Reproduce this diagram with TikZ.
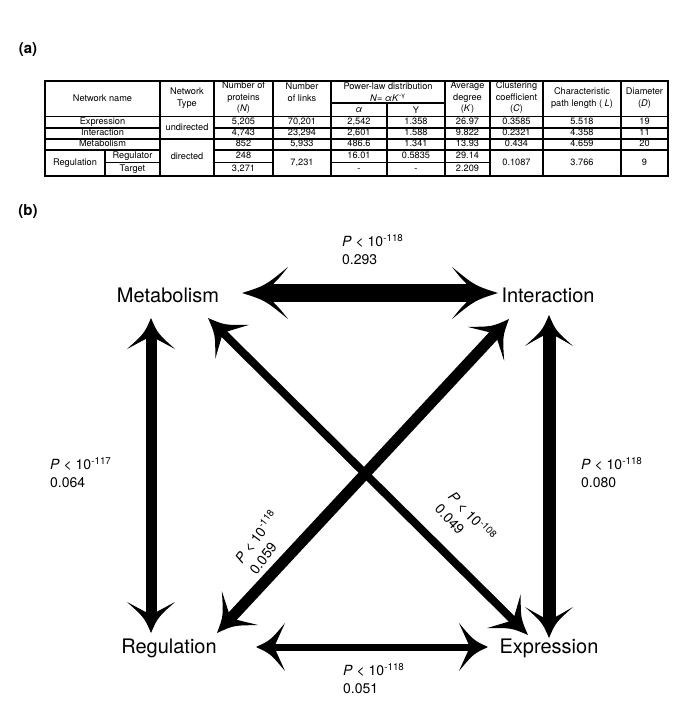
\documentclass[tikz,border=0pt]{standalone}
\usepackage{fontspec}
\setmainfont{TeX Gyre Heros}
\usetikzlibrary{calc}
\newcounter{tcn}
\newcommand{\tc}[3]{\stepcounter{tcn}\node[tcell] (tc\arabic{tcn}) at (#1,#2) {#3};}
\newcommand{\thd}[3]{\stepcounter{tcn}\node[thead] (tc\arabic{tcn}) at (#1,#2) {#3};}
% double-headed arrow: from, to, shaft width, head length, head half width
\newcommand{\dbl}[5]{%
  \draw[line width=#3pt, shorten <=#4pt*0.62, shorten >=#4pt*0.62] (#1) -- (#2);
  \path let \p1=($(#2)-(#1)$), \n1={atan2(\y1,\x1)} in
    (#2) pic[rotate=\n1]{ahead={#4}{#5}{#3}}
    (#1) pic[rotate=\n1+180]{ahead={#4}{#5}{#3}};}
\begin{document}
\begin{tikzpicture}[x=1pt,y=-1pt,
  tcell/.style={font=\fontsize{9.2}{11}\selectfont, inner sep=0pt, text height=6.6pt, text depth=1.9pt},
  thead/.style={font=\fontsize{9.2}{11.5}\selectfont, inner sep=0pt, align=center},
  tline/.style={line width=1.05pt},
  netlabel/.style={font=\fontsize{20}{24}\selectfont, inner sep=0pt},
  plabel/.style={font=\fontsize{14}{18}\selectfont, align=left, inner sep=0pt},
  panel/.style={font=\fontsize{15}{18}\selectfont\bfseries, inner sep=0pt},
  pics/ahead/.style n args={3}{code={
    \fill (0,0) .. controls (-0.5*#1,0.28*#2) .. (-#1,#2)
      .. controls (-0.82*#1,0.6*#2) .. (-0.68*#1,0.5*#3)
      -- (-0.68*#1,-0.5*#3)
      .. controls (-0.82*#1,-0.6*#2) .. (-#1,-#2)
      .. controls (-0.5*#1,-0.28*#2) .. cycle;}},
]
\useasboundingbox (0,0) rectangle (685,715);

% ---------------- (a) table ----------------
\node[panel] (pa) at (28,50) {(a)};

\draw[tline] (45,81) rectangle (668,176);
\foreach \cx in {160,214,273,331,445,490,543,621} \draw[tline] (\cx,81) -- (\cx,176);
\draw[tline] (387,103) -- (387,176);
\draw[tline] (105,150) -- (105,176);
\draw[tline] (331,103) -- (445,103);
\draw[tline] (45,116.5) -- (668,116.5);
\draw[tline] (45,128) -- (160,128) (214,128) -- (668,128);
\draw[tline] (45,139) -- (668,139);
\draw[tline] (45,150) -- (160,150) (214,150) -- (668,150);
\draw[tline] (105,162.5) -- (160,162.5) (214,162.5) -- (273,162.5) (331,162.5) -- (490,162.5);

% header
\thd{102.5}{98}{Network name}
\thd{187}{98}{Network\\Type}
\thd{243.5}{98}{Number of\\proteins\\(\textit{N})}
\thd{302}{92}{Number\\of links}
\thd{388}{86.5}{Power-law distribution}
\thd{388}{97.5}{\textit{N}= \textit{αK}\textsuperscript{-γ}}
\thd{359}{110}{\textit{α}}
\thd{416}{110}{Y}
\thd{467.5}{98}{Average\\degree\\(\textit{K})}
\thd{516.5}{98}{Clustering\\coefficient\\(\textit{C})}
\thd{582}{98}{Characteristic\\path length ( \textit{L})}
\thd{644.5}{98}{Diameter\\(\textit{D})}

% rows
\tc{102.5}{122.3}{Expression}
\tc{102.5}{133.5}{Interaction}
\tc{102.5}{144.5}{Metabolism}
\tc{75}{163}{Regulation}
\tc{132.5}{156.3}{Regulator}
\tc{132.5}{169.3}{Target}
\tc{187}{128}{undirected}
\tc{187}{157.5}{directed}
\tc{243.5}{122.3}{5,205}
\tc{243.5}{133.5}{4,743}
\tc{243.5}{144.5}{852}
\tc{243.5}{156.3}{248}
\tc{243.5}{169.3}{3,271}
\tc{302}{122.3}{70,201}
\tc{302}{133.5}{23,294}
\tc{302}{144.5}{5,933}
\tc{302}{163}{7,231}
\tc{359}{122.3}{2,542}
\tc{359}{133.5}{2,601}
\tc{359}{144.5}{486.6}
\tc{359}{156.3}{16.01}
\tc{359}{169.3}{-}
\tc{416}{122.3}{1.358}
\tc{416}{133.5}{1.588}
\tc{416}{144.5}{1.341}
\tc{416}{156.3}{0.5835}
\tc{416}{169.3}{-}
\tc{467.5}{122.3}{26.97}
\tc{467.5}{133.5}{9.822}
\tc{467.5}{144.5}{13.93}
\tc{467.5}{156.3}{29.14}
\tc{467.5}{169.3}{2.209}
\tc{516.5}{122.3}{0.3585}
\tc{516.5}{133.5}{0.2321}
\tc{516.5}{144.5}{0.434}
\tc{516.5}{163}{0.1087}
\tc{582}{122.3}{5.518}
\tc{582}{133.5}{4.358}
\tc{582}{144.5}{4.659}
\tc{582}{163}{3.766}
\tc{644.5}{122.3}{19}
\tc{644.5}{133.5}{11}
\tc{644.5}{144.5}{20}
\tc{644.5}{163}{9}

% ---------------- (b) network ----------------
\node[panel] (pb) at (28,212) {(b)};

\node[netlabel] (met) at (168,295) {Metabolism};
\node[netlabel] (int) at (548,295) {Interaction};
\node[netlabel] (reg) at (169,648) {Regulation};
\node[netlabel] (exp) at (549,648) {Expression};

% arrow end points
\coordinate (mi1) at (242,293);
\coordinate (mi2) at (498,293);
\coordinate (mr1) at (151,318);
\coordinate (mr2) at (151,633);
\coordinate (ie1) at (549,315);
\coordinate (ie2) at (549,638);
\coordinate (me1) at (208,318);
\coordinate (me2) at (528,635);
\coordinate (ir1) at (509,319);
\coordinate (ir2) at (217,633);
\coordinate (re1) at (256,647);
\coordinate (re2) at (488,647);

\dbl{mi1}{mi2}{18}{46}{26}
\dbl{mr1}{mr2}{11}{31}{24}
\dbl{ie1}{ie2}{13}{31}{24}
\dbl{me1}{me2}{8}{34}{24}
\dbl{ir1}{ir2}{11}{34}{25}
\dbl{re1}{re2}{7}{29}{24}

% edge labels
\node[plabel, anchor=west] (lmi) at (342,250) {\textit{P} < 10\textsuperscript{-118}\\0.293};
\node[plabel, anchor=west] (lmr) at (50,473) {\textit{P} < 10\textsuperscript{-117}\\0.064};
\node[plabel, anchor=west] (lie) at (581,473) {\textit{P} < 10\textsuperscript{-118}\\0.080};
\node[plabel, anchor=west] (lre) at (343,679) {\textit{P} < 10\textsuperscript{-118}\\0.051};
\node[plabel, rotate=53] (lir) at (263,542) {\textit{P} < 10\textsuperscript{-118}\\0.059};
\node[plabel, rotate=-47] (lme) at (466,522) {\textit{P} < 10\textsuperscript{-108}\\0.049};
\end{tikzpicture}
\end{document}
